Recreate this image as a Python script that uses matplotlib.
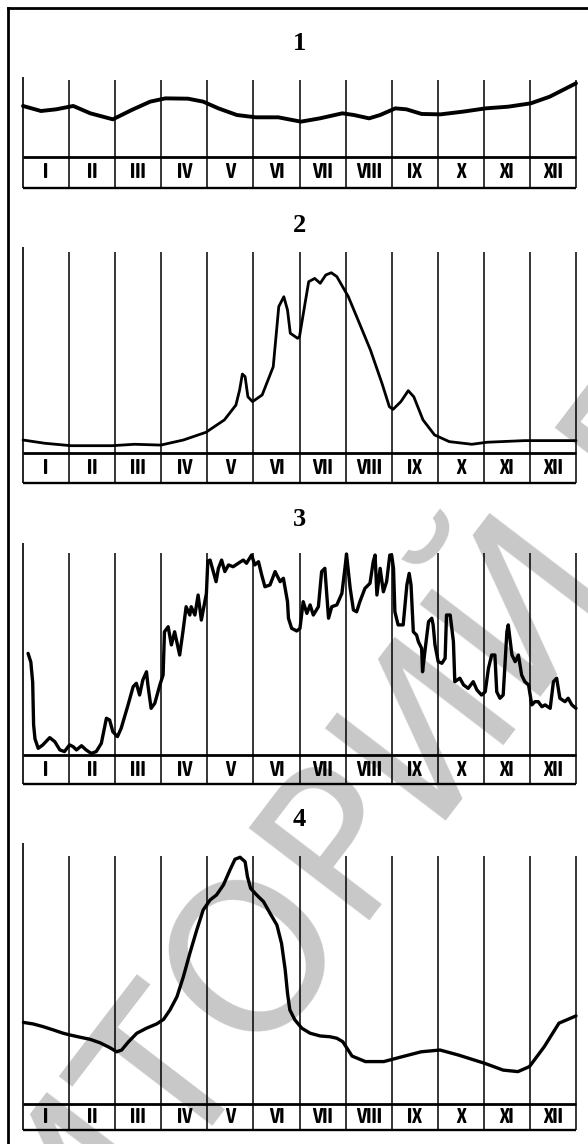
import matplotlib
matplotlib.use("Agg")
import matplotlib.pyplot as plt
from matplotlib import font_manager
from matplotlib.lines import Line2D

# month labels for the strip under every panel
months = ["I", "II", "III", "IV", "V", "VI", "VII", "VIII", "IX", "X", "XI", "XII"]

# curves: x in months from the left edge (0..12), y in % of panel height
p1_x = [0, 0.39, 0.72, 1.09, 1.46, 1.95, 2.36, 2.76, 3.09, 3.58, 3.91, 4.24, 4.64, 5.05,
        5.54, 6.03, 6.44, 6.93, 7.18, 7.51, 7.75, 8.08, 8.32, 8.65, 9.06, 9.55, 10.04,
        10.53, 11.02, 11.43, 12.0]
p1_y = [63.8, 57.5, 59.6, 63.8, 54.6, 47.1, 58.8, 69.2, 73.3, 72.9, 69.2, 60.8, 52.5, 49.6,
        49.6, 44.2, 48.3, 54.6, 52.5, 48.3, 52.5, 60.8, 59.6, 53.8, 53.3, 56.7, 60.8,
        62.9, 67.1, 75.4, 92.1]

p2_x = [0, 0.47, 1.04, 1.93, 2.42, 2.99, 3.48, 3.97, 4.37, 4.62, 4.70, 4.76, 4.82, 4.88,
        4.98, 5.19, 5.43, 5.55, 5.66, 5.74, 5.80, 5.96, 6.0, 6.12, 6.20, 6.33, 6.45, 6.57,
        6.69, 6.81, 7.06, 7.30, 7.54, 7.79, 7.95, 8.03, 8.20, 8.36, 8.48, 8.68, 8.93, 9.25,
        9.74, 10.07, 10.88, 12.0]
p2_y = [6.4, 4.8, 3.6, 3.6, 4.3, 3.9, 6.4, 10.2, 16.3, 23.6, 31.0, 38.9, 37.6, 27.7,
        25.3, 28.6, 42.5, 72.1, 77.0, 70.4, 59.0, 56.5, 57.3, 73.7, 84.4, 86.0, 83.6, 87.7,
        88.8, 86.9, 77.0, 63.9, 50.7, 34.3, 22.8, 21.5, 25.3, 30.7, 27.7, 16.3, 8.9, 5.6,
        4.3, 5.3, 6.1, 6.1]

p3_x = [0.11, 0.17, 0.21, 0.22, 0.23, 0.26, 0.33, 0.43, 0.58, 0.69, 0.80, 0.90, 1.01, 1.09,
        1.16, 1.27, 1.37, 1.48, 1.59, 1.70, 1.81, 1.88, 1.95, 2.05, 2.13, 2.28, 2.39, 2.46,
        2.53, 2.60, 2.68, 2.71, 2.78, 2.86, 2.97, 3.04, 3.07, 3.15, 3.22, 3.29, 3.40, 3.47,
        3.54, 3.62, 3.65, 3.73, 3.80, 3.87, 3.98, 4.01, 4.06, 4.13, 4.19, 4.24, 4.31, 4.38,
        4.46, 4.56, 4.67, 4.78, 4.85, 4.96, 5.03, 5.11, 5.18, 5.25, 5.36, 5.47, 5.58, 5.65,
        5.74, 5.76, 5.83, 5.94, 6.01, 6.08, 6.16, 6.23, 6.30, 6.41, 6.48, 6.55, 6.63, 6.70,
        6.81, 6.92, 6.99, 7.02, 7.10, 7.17, 7.24, 7.31, 7.42, 7.53, 7.60, 7.64, 7.68, 7.75,
        7.82, 7.89, 7.96, 8.00, 8.04, 8.07, 8.14, 8.25, 8.33, 8.38, 8.42, 8.47, 8.54, 8.58,
        8.65, 8.67, 8.72, 8.80, 8.87, 8.90, 8.94, 9.01, 9.09, 9.16, 9.19, 9.27, 9.34, 9.37,
        9.48, 9.56, 9.66, 9.77, 9.85, 9.95, 10.03, 10.10, 10.17, 10.24, 10.28, 10.35, 10.42,
        10.50, 10.53, 10.61, 10.68, 10.75, 10.82, 10.89, 10.97, 11.04, 11.11, 11.18, 11.26,
        11.33, 11.44, 11.51, 11.58, 11.65, 11.76, 11.83, 11.91, 12.0]
p3_y = [50.3, 46, 36, 25, 15, 8, 3.3, 5.0, 8.6, 6.6, 2.5, 1.7, 5.0, 4.1,
        2.5, 4.6, 2.5, 0.8, 1.7, 5.8, 18.2, 17.3, 11.5, 9.1, 13.2, 24.8, 33.8, 35.5,
        29.7, 37.1, 41.2, 34.7, 23.1, 25.6, 34.7, 39.6, 61.0, 63.5, 54.5, 61.0, 49.5, 61.0,
        73.4, 69.3, 73.4, 69.3, 79.2, 66.8, 80.0, 96, 96.5, 90.8, 85.8, 92.4, 96.5, 90.8,
        94.1, 93.2, 94.9, 96.5, 94.9, 99.0, 94.1, 95.7, 89.1, 83.3, 84.2, 90.8, 85.8, 87.5,
        75.9, 67.7, 62.7, 61.4, 62.7, 75.9, 70.1, 74.3, 69.3, 73.4, 90.8, 92.4, 67.7, 73.4,
        74.3, 80.0, 93.2, 99.5, 82.5, 71.8, 70.9, 75.9, 82.5, 85.0, 95.7, 99.0, 79.2, 92.4,
        80.8, 85.8, 99.0, 99, 92.4, 70.9, 64.4, 64.4, 84.2, 89.9, 84.2, 61.0, 59.4, 56.1,
        52.8, 41.2, 51.1, 66.0, 67.7, 64.4, 54.5, 46.2, 45.4, 47.9, 69.3, 69.3, 56.1, 36.3,
        38.0, 34.7, 33.0, 36.3, 32.2, 29.7, 31.3, 42.9, 49.5, 49.5, 31.3, 28.1, 29.7,
        61.0, 64.4, 49.5, 46.2, 49.5, 39.6, 36.3, 34.7, 24.8, 26.4, 26.4, 23.9,
        24.8, 23.1, 36.3, 38.0, 28.1, 26.4, 28.1, 24.8, 23.1]

p4_x = [0.01, 0.22, 0.44, 0.66, 0.87, 1.02, 1.24, 1.45, 1.67, 1.89, 2.03, 2.14, 2.29, 2.47,
        2.68, 2.90, 3.05, 3.19, 3.34, 3.48, 3.62, 3.77, 3.91, 4.06, 4.20, 4.35, 4.49, 4.60,
        4.71, 4.82, 4.87, 4.94, 5.07, 5.22, 5.36, 5.51, 5.61, 5.69, 5.74, 5.79, 5.90, 6.05,
        6.23, 6.45, 6.66, 6.81, 6.94, 7.14, 7.43, 7.83, 8.24, 8.64, 9.05, 9.45, 10.02,
        10.42, 10.74, 10.99, 11.31, 11.63, 12.0]
p4_y = [32.5, 31.9, 30.8, 29.5, 28.2, 27.5, 26.6, 25.8, 24.4, 22.4, 20.8, 21.5, 24.8, 28.2,
        30.2, 31.9, 33.7, 37.5, 42.7, 50.7, 60.0, 69.3, 77.3, 81.3, 83.3, 87.3, 93.2, 97.5,
        98.3, 96.5, 90.6, 85.9, 83.3, 80.6, 76.0, 71.3, 64.0, 53.4, 44.1, 37.5, 33.5, 30.2,
        28.2, 27.1, 26.8, 26.2, 24.8, 19.1, 16.9, 16.9, 18.9, 20.8, 21.5, 19.5, 16.2,
        13.5, 12.9, 14.9, 22.8, 32.2, 35.1]

titles = ["1", "2", "3", "4"]

# layout in pixels: title y, y of value 100, strip top (value 0), strip bottom,
# top of the month lines and of the left edge line (in values)
W, H = 588, 1144
X0, X1 = 23, 576
layout = [
    (43, 77, 157, 188, 96, 100),
    (225, 250, 453, 483, 99, 101.5),
    (520, 553, 755, 784, 100, 105),
    (820, 853, 1104, 1130, 99, 104),
]
curves = [(p1_x, p1_y, 2.8), (p2_x, p2_y, 2.0), (p3_x, p3_y, 2.4), (p4_x, p4_y, 2.4)]


def weight_of(f):
    if isinstance(f.weight, int):
        return f.weight
    return font_manager.weight_dict.get(f.weight, 400)


# a bold narrow face for the month labels if one is installed
narrow = [f.name for f in font_manager.fontManager.ttflist
          if ("Narrow" in f.name or "Condensed" in f.name) and weight_of(f) >= 600]
if narrow:
    label_font, label_size = narrow[0], 15
else:
    label_font, label_size = "DejaVu Sans", 12.5

fig = plt.figure(figsize=(W / 100, H / 100), dpi=100)

# watermark behind everything
fig.text(233 / W, 1 - 1004 / H, "РЕПОЗИТОРИЙ ВГУ", rotation=52.6, rotation_mode="anchor",
         ha="center", va="center", fontsize=150, color="#c8c8c8",
         family="DejaVu Sans", zorder=-10)

# outer frame (left and top only)
fig.add_artist(Line2D([8 / W, 8 / W], [0, 1 - 8 / H], transform=fig.transFigure,
                      color="black", lw=2.0))
fig.add_artist(Line2D([8 / W, 1], [1 - 8 / H, 1 - 8 / H], transform=fig.transFigure,
                      color="black", lw=2.0))

for (ty, top, st, sb, line_top, left_top), (cx, cy, lw), title in zip(layout, curves, titles):
    ax = fig.add_axes([X0 / W, 1 - sb / H, (X1 - X0) / W, (sb - top) / H])
    s = 100 * (sb - st) / (st - top)
    ax.set_xlim(0, 12)
    ax.set_ylim(-s, 100)
    ax.axis("off")
    ax.patch.set_visible(False)

    # month boundaries
    ax.vlines(range(1, 13), -s, line_top, color="black", lw=1.1, clip_on=False)
    ax.vlines([0], -s, left_top, color="black", lw=1.2, clip_on=False)
    # strip lines
    ax.hlines([0], 0, 12, color="black", lw=2.0, clip_on=False)
    ax.hlines([-s], 0, 12, color="black", lw=1.7, clip_on=False)
    for i, m in enumerate(months):
        ax.text(i + 0.5, -s / 2, m, ha="center", va="center", fontsize=label_size,
                fontweight="bold", family=label_font)

    ax.plot(cx, cy, color="black", lw=lw, solid_joinstyle="round",
            solid_capstyle="round", clip_on=False)

    fig.text((X0 + X1) / 2 / W, 1 - ty / H, title, ha="center", va="center",
             fontsize=19, fontweight="bold", family="Liberation Serif")

fig.savefig("out.png", dpi=100, facecolor="white")
